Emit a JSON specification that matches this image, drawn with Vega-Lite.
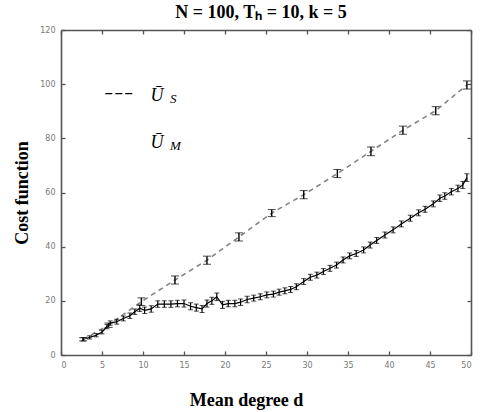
{
  "$schema": "https://vega.github.io/schema/vega-lite/v6.json",
  "width": 410,
  "height": 325,
  "autosize": "none",
  "padding": {"left": 61, "top": 30, "right": 11, "bottom": 57},
  "background": "white",
  "title": {"text": "N = 100, Tₕ = 10, k = 5", "font": "Liberation Serif", "fontSize": 18, "fontWeight": "bold", "color": "black", "offset": 4, "dx": -5, "anchor": "middle"},
  "datasets": {
    "um": [
      {"d": 2.7, "v": 5.8, "e": 0.6}, {"d": 3.5, "v": 6.5, "e": 0.6}, {"d": 4.3, "v": 7.3, "e": 0.6},
      {"d": 5.0, "v": 8.5, "e": 0.7}, {"d": 5.6, "v": 10.5, "e": 0.8}, {"d": 6.0, "v": 11.8, "e": 0.8},
      {"d": 6.8, "v": 12.3, "e": 0.9}, {"d": 7.6, "v": 13.5, "e": 0.9}, {"d": 8.4, "v": 14.5, "e": 1.0},
      {"d": 9.0, "v": 16.0, "e": 1.0}, {"d": 9.6, "v": 17.3, "e": 1.2}, {"d": 10.2, "v": 16.5, "e": 1.2},
      {"d": 11.0, "v": 17.0, "e": 1.2}, {"d": 11.8, "v": 18.8, "e": 1.2}, {"d": 12.6, "v": 18.8, "e": 1.2},
      {"d": 13.4, "v": 18.8, "e": 1.2}, {"d": 14.2, "v": 19.0, "e": 1.2}, {"d": 15.0, "v": 19.0, "e": 1.3},
      {"d": 15.8, "v": 18.0, "e": 1.3}, {"d": 16.5, "v": 17.5, "e": 1.3}, {"d": 17.2, "v": 17.0, "e": 1.3},
      {"d": 17.8, "v": 19.0, "e": 1.3}, {"d": 18.4, "v": 20.0, "e": 1.3}, {"d": 19.0, "v": 21.5, "e": 1.4},
      {"d": 19.7, "v": 18.5, "e": 1.3}, {"d": 20.4, "v": 19.0, "e": 1.2}, {"d": 21.2, "v": 19.0, "e": 1.2},
      {"d": 21.9, "v": 19.5, "e": 1.2}, {"d": 22.7, "v": 20.5, "e": 1.2}, {"d": 23.5, "v": 21.0, "e": 1.1},
      {"d": 24.3, "v": 21.5, "e": 1.1}, {"d": 25.1, "v": 22.2, "e": 1.1}, {"d": 25.9, "v": 22.5, "e": 1.1},
      {"d": 26.6, "v": 23.2, "e": 1.1}, {"d": 27.3, "v": 23.7, "e": 1.1}, {"d": 28.0, "v": 24.2, "e": 1.1},
      {"d": 28.7, "v": 25.2, "e": 1.1}, {"d": 29.6, "v": 27.1, "e": 1.1}, {"d": 30.4, "v": 28.7, "e": 1.1},
      {"d": 31.2, "v": 29.5, "e": 1.1}, {"d": 32.0, "v": 30.8, "e": 1.1}, {"d": 32.8, "v": 32.0, "e": 1.1},
      {"d": 33.6, "v": 33.2, "e": 1.1}, {"d": 34.4, "v": 35.1, "e": 1.1}, {"d": 35.2, "v": 36.6, "e": 1.1},
      {"d": 36.0, "v": 37.5, "e": 1.1}, {"d": 36.9, "v": 38.8, "e": 1.1}, {"d": 37.7, "v": 40.6, "e": 1.1},
      {"d": 38.5, "v": 42.3, "e": 1.1}, {"d": 39.5, "v": 44.3, "e": 1.1}, {"d": 40.5, "v": 46.2, "e": 1.1},
      {"d": 41.5, "v": 48.4, "e": 1.1}, {"d": 42.6, "v": 50.5, "e": 1.1}, {"d": 43.6, "v": 52.5, "e": 1.1},
      {"d": 44.4, "v": 53.8, "e": 1.1}, {"d": 45.4, "v": 55.8, "e": 1.1}, {"d": 46.2, "v": 57.9, "e": 1.2},
      {"d": 46.8, "v": 58.7, "e": 1.2}, {"d": 47.6, "v": 60.3, "e": 1.2}, {"d": 48.4, "v": 61.5, "e": 1.2},
      {"d": 49.0, "v": 62.8, "e": 1.3}, {"d": 49.5, "v": 65.5, "e": 1.4}
    ],
    "us": [
      {"d": 2.7, "v": 5.8, "e": 0.6}, {"d": 5.8, "v": 11.0, "e": 0.8}, {"d": 9.8, "v": 19.7, "e": 1.4},
      {"d": 13.9, "v": 27.7, "e": 1.5}, {"d": 17.8, "v": 35.0, "e": 1.5}, {"d": 21.7, "v": 43.6, "e": 1.5},
      {"d": 25.7, "v": 52.4, "e": 1.3}, {"d": 29.6, "v": 59.2, "e": 1.5}, {"d": 33.7, "v": 67.0, "e": 1.5},
      {"d": 37.8, "v": 75.2, "e": 1.6}, {"d": 41.7, "v": 83.0, "e": 1.5}, {"d": 45.7, "v": 90.2, "e": 1.5},
      {"d": 49.5, "v": 99.7, "e": 1.5}
    ]
  },
  "config": {
    "view": {"stroke": null},
    "axis": {
      "grid": false, "domainColor": "#555", "domainWidth": 1.6, "tickColor": "#555", "tickSize": -4, "tickWidth": 1.3,
      "labelFont": "DejaVu Sans", "labelFontSize": 8, "labelColor": "#777", "labelPadding": 10,
      "titleFont": "Liberation Serif", "titleFontSize": 18, "titleFontWeight": "bold", "titleColor": "black"
    }
  },
  "layer": [
    {
      "data": {"name": "um"},
      "mark": {"type": "line", "color": "black", "strokeWidth": 1.2},
      "encoding": {
        "x": {"field": "d", "type": "quantitative", "scale": {"domain": [0, 50], "nice": false},
              "axis": {"orient": "bottom", "values": [0,5,10,15,20,25,30,35,40,45,50], "title": "Mean degree d", "titlePadding": 22, "titleX": 185}},
        "y": {"field": "v", "type": "quantitative", "scale": {"domain": [0, 120], "nice": false},
              "axis": {"orient": "left", "values": [0,20,40,60,80,100,120], "title": "Cost function", "titlePadding": 8}}
      }
    },
    {
      "data": {"name": "us"},
      "mark": {"type": "line", "color": "#858585", "strokeWidth": 1.6, "strokeDash": [5, 4]},
      "encoding": {
        "x": {"field": "d", "type": "quantitative", "scale": {"domain": [0, 50], "nice": false},
              "axis": {"orient": "top", "values": [0,5,10,15,20,25,30,35,40,45,50], "labels": false, "title": null}},
        "y": {"field": "v", "type": "quantitative", "scale": {"domain": [0, 120], "nice": false},
              "axis": {"orient": "right", "values": [0,20,40,60,80,100,120], "labels": false, "title": null}}
      }
    },
    {
      "data": {"name": "um"},
      "mark": {"type": "errorbar", "ticks": {"size": 5, "color": "black", "strokeWidth": 1.2}, "rule": {"color": "black", "strokeWidth": 1.2}},
      "encoding": {
        "x": {"field": "d", "type": "quantitative", "axis": null},
        "y": {"field": "v", "type": "quantitative", "axis": null},
        "yError": {"field": "e"}
      }
    },
    {
      "data": {"name": "us"},
      "mark": {"type": "errorbar", "ticks": {"size": 8, "color": "black", "strokeWidth": 1.4}, "rule": {"color": "black", "strokeWidth": 1.4}},
      "encoding": {
        "x": {"field": "d", "type": "quantitative", "axis": null},
        "y": {"field": "v", "type": "quantitative", "axis": null},
        "yError": {"field": "e"}
      }
    },
    {
      "data": {"values": [{}]},
      "mark": {"type": "rule", "color": "black", "strokeWidth": 1.3, "strokeDash": [7, 3]},
      "encoding": {
        "x": {"datum": 5.4, "type": "quantitative", "axis": null},
        "x2": {"datum": 8.7},
        "y": {"datum": 96.5, "type": "quantitative", "axis": null}
      }
    },
    {
      "data": {"values": [{}]},
      "mark": {"type": "text", "text": "Ū", "font": "Liberation Serif", "fontStyle": "italic", "fontSize": 18, "align": "center", "baseline": "alphabetic", "color": "black"},
      "encoding": {
        "x": {"datum": 11.7, "type": "quantitative", "axis": null},
        "y": {"datum": 93.8, "type": "quantitative", "axis": null}
      }
    },
    {
      "data": {"values": [{}]},
      "mark": {"type": "text", "text": "S", "font": "Liberation Serif", "fontStyle": "italic", "fontSize": 13, "align": "left", "baseline": "alphabetic", "color": "black"},
      "encoding": {
        "x": {"datum": 13.3, "type": "quantitative", "axis": null},
        "y": {"datum": 93.0, "type": "quantitative", "axis": null}
      }
    },
    {
      "data": {"values": [{}]},
      "mark": {"type": "text", "text": "Ū", "font": "Liberation Serif", "fontStyle": "italic", "fontSize": 18, "align": "center", "baseline": "alphabetic", "color": "black"},
      "encoding": {
        "x": {"datum": 11.7, "type": "quantitative", "axis": null},
        "y": {"datum": 76.4, "type": "quantitative", "axis": null}
      }
    },
    {
      "data": {"values": [{}]},
      "mark": {"type": "text", "text": "M", "font": "Liberation Serif", "fontStyle": "italic", "fontSize": 13, "align": "left", "baseline": "alphabetic", "color": "black"},
      "encoding": {
        "x": {"datum": 13.3, "type": "quantitative", "axis": null},
        "y": {"datum": 75.7, "type": "quantitative", "axis": null}
      }
    }
  ],
  "resolve": {"axis": {"x": "independent", "y": "independent"}}
}
